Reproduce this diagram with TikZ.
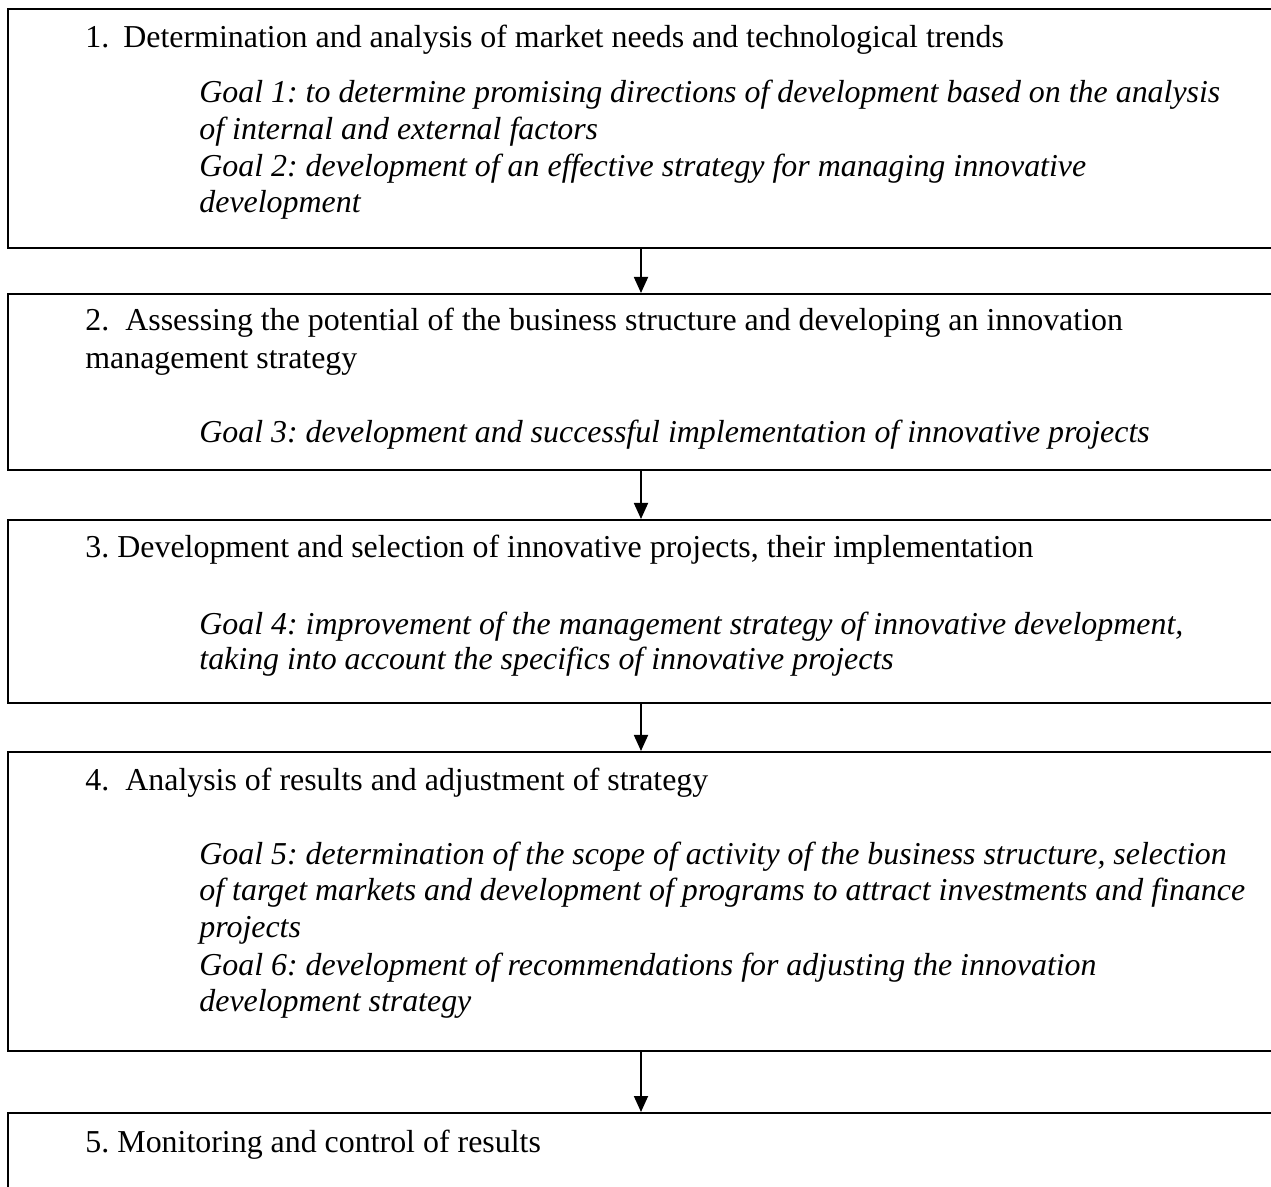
\documentclass[tikz,border=0pt]{standalone}
\usepackage{fontspec}
\setmainfont{Liberation Serif}
\usetikzlibrary{arrows.meta}
\begin{document}
\frenchspacing
\begin{tikzpicture}[x=0.5pt,y=-0.5pt,
  stagebox/.style={draw, line width=1pt, rectangle, anchor=north west,
    inner sep=0pt, minimum width=645pt},
  headline/.style={anchor=base west, inner sep=0pt,
    font=\fontsize{15.95}{18.5}\selectfont},
  goalline/.style={headline, font=\fontsize{15.95}{18.5}\selectfont\itshape},
  flow/.style={line width=0.9pt, -{Triangle[width=7pt,length=8pt]}}]
\useasboundingbox (0,0) rectangle (1271,1187);
\clip (0,0) rectangle (1271,1187);
\fill[white] (0,0) rectangle (1271,1187);

% stage frames
\node[stagebox, minimum height=119.5pt] (b1) at (7,8) {};
\node[stagebox, minimum height=88pt]    (b2) at (7,293) {};
\node[stagebox, minimum height=91.5pt]  (b3) at (7,519) {};
\node[stagebox, minimum height=149.5pt] (b4) at (7,751) {};
\node[stagebox, minimum height=100pt]   (b5) at (7,1112) {};

% stage 1
\node[headline] (h1) at (85,48) {\makebox[19pt][l]{1.}Determination and analysis of market needs and technological trends};
\node[goalline] (g1a) at (199,103) {Goal 1: to determine promising directions of development based on the analysis};
\node[goalline] (g1b) at (199,140) {of internal and external factors};
\node[goalline] (g1c) at (199,177) {Goal 2: development of an effective strategy for managing innovative};
\node[goalline] (g1d) at (199,213) {development};

% stage 2
\node[headline] (h2a) at (85,331) {\makebox[20pt][l]{2.}Assessing the potential of the business structure and developing an innovation};
\node[headline] (h2b) at (85,369) {management strategy};
\node[goalline] (g3) at (199,443) {Goal 3: development and successful implementation of innovative projects};

% stage 3
\node[headline] (h3) at (85,558) {\makebox[16pt][l]{3.}Development and selection of innovative projects, their implementation};
\node[goalline] (g4a) at (199,635) {Goal 4: improvement of the management strategy of innovative development,};
\node[goalline] (g4b) at (199,670) {taking into account the specifics of innovative projects};

% stage 4
\node[headline] (h4) at (85,791) {\makebox[20pt][l]{4.}Analysis of results and adjustment of strategy};
\node[goalline] (g5a) at (199,864) {Goal 5: determination of the scope of activity of the business structure, selection};
\node[goalline] (g5b) at (199,900) {of target markets and development of programs to attract investments and finance};
\node[goalline] (g5c) at (199,937) {projects};
\node[goalline] (g6a) at (199,975) {Goal 6: development of recommendations for adjusting the innovation};
\node[goalline] (g6b) at (199,1011) {development strategy};

% stage 5
\node[headline] (h5) at (85,1152) {\makebox[16pt][l]{5.}Monitoring and control of results};

% connectors
\coordinate (ax) at (641,0);
\draw[flow] (b1.south -| ax) -- (b2.north -| ax);
\draw[flow] (b2.south -| ax) -- (b3.north -| ax);
\draw[flow] (b3.south -| ax) -- (b4.north -| ax);
\draw[flow] (b4.south -| ax) -- (b5.north -| ax);
\end{tikzpicture}
\end{document}
